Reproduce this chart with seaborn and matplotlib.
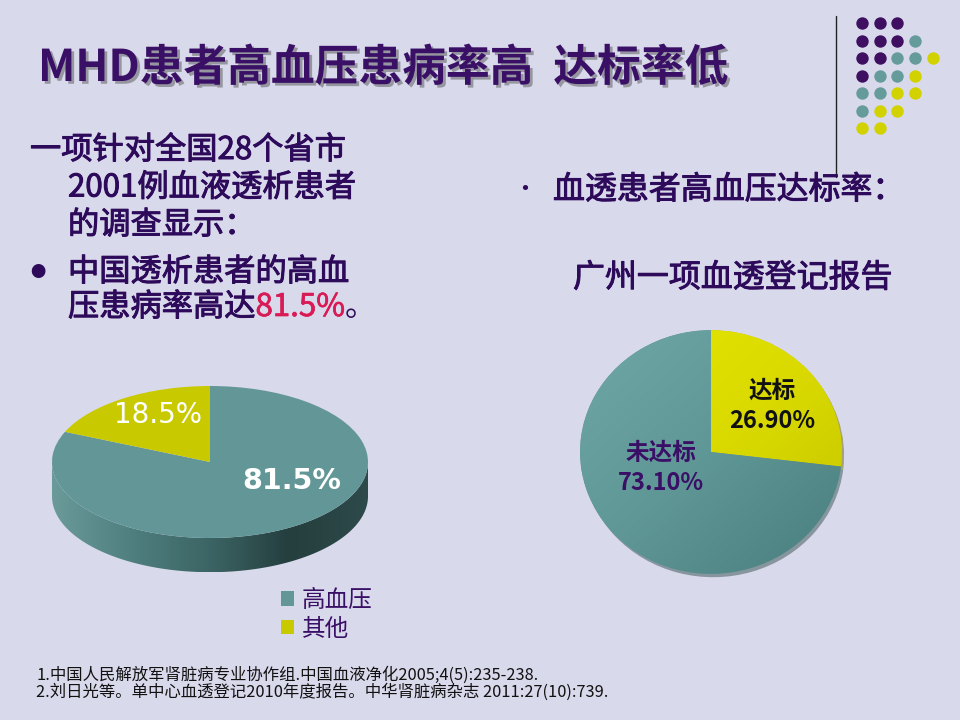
import numpy as np
import matplotlib
matplotlib.use("Agg")
import matplotlib.pyplot as plt
import matplotlib.patheffects as pe
from matplotlib.patches import Polygon
from matplotlib.colors import LinearSegmentedColormap
import seaborn as sns

# left pie: prevalence of hypertension among dialysis patients
prev_labels = ["高血压", "其他"]
prev_values = [81.5, 18.5]

# right pie: blood pressure control rate (Guangzhou registry)
ctrl_labels = ["达标", "未达标"]
ctrl_values = [26.90, 73.10]

title = "MHD患者高血压患病率高  达标率低"
intro_lines = ["一项针对全国28个省市", "2001例血液透析患者", "的调查显示："]
bullet_lines = ["中国透析患者的高血", "压患病率高达"]
right_bullet = "血透患者高血压达标率："
right_sub = "广州一项血透登记报告"
refs = ["1.中国人民解放军肾脏病专业协作组.中国血液净化2005;4(5):235-238.",
        "2.刘日光等。单中心血透登记2010年度报告。中华肾脏病杂志 2011:27(10):739."]

# decorative dot grid in the corner (P=purple, T=teal, Y=yellow)
dot_rows = ["PPP", "PPPT", "PPTTY", "PTTY", "TTYY", "TYY", "YY"]

BG = "#D9D9EC"
PURPLE = "#3A0F66"
TEXT = "#2D0A5A"
TEAL = "#639797"
YELLOW = "#C9C900"
RED = "#D81B55"

sns.set_theme(style="white")
plt.rcParams["font.family"] = ["Noto Sans CJK SC", "DejaVu Sans"]

fig = plt.figure(figsize=(9.6, 7.2), dpi=100, facecolor=BG)

# full-figure overlay in pixel coordinates for the slide text
bg = fig.add_axes([0, 0, 1, 1])
bg.set_xlim(0, 960)
bg.set_ylim(720, 0)
bg.axis("off")

bg.text(38, 68, title, fontsize=31.5, fontweight="black", color=PURPLE, va="center",
        path_effects=[pe.withSimplePatchShadow(offset=(2, -2), shadow_rgbFace="#555555", alpha=0.5)])

# slightly heavier strokes to mimic the original slide font
thick = [pe.withStroke(linewidth=0.7, foreground=TEXT)]
body = dict(fontsize=22.5, color=TEXT, va="center", path_effects=thick)
for i, line in enumerate(intro_lines):
    bg.text(30 if i == 0 else 68, 150 + 37.5 * i, line, **body)
bg.text(38, 272, "●", fontsize=11, color=TEXT, va="center", ha="center")
bg.text(68, 272, bullet_lines[0], **body)
t1 = bg.text(68, 307, bullet_lines[1], **body)
t2 = bg.annotate(f"{prev_values[0]}%", xy=(1, 0), xycoords=t1, va="bottom", ha="left",
                 fontsize=22.5, color=RED,
                 path_effects=[pe.withStroke(linewidth=0.5, foreground=RED)])
bg.annotate("。", xy=(1, 0), xycoords=t2, va="bottom", ha="left", fontsize=22.5, color=TEXT)

bg.text(525, 190, "•", fontsize=18, color=TEXT, va="center", ha="center")
bg.text(553, 190, right_bullet, fontsize=23, color=TEXT, va="center", path_effects=thick)
bg.text(573, 278, right_sub, fontsize=23, color=TEXT, va="center", path_effects=thick)

for i, ref in enumerate(refs):
    bg.text(36, 675 + 17.5 * i, ref, fontsize=11.8, color="#111111", va="center")

# corner decoration
bg.plot([836, 836], [16, 177], color="#222222", lw=1)
dot_colors = {"P": "#3F1062", "T": "#659B9B", "Y": "#D2D200"}
for r, row in enumerate(dot_rows):
    for c, key in enumerate(row):
        bg.scatter(862 + 17.7 * c, 23 + 17.5 * r, s=80, color=dot_colors[key], lw=0)

# ---- left 3D-looking pie ----
ax1 = fig.add_axes([36.2 / 960, (720 - 583.6) / 720, 347.6 / 960, 205.2 / 720])
ax1.patch.set_alpha(0)
depth = 0.45
t = np.linspace(np.pi, 2 * np.pi, 200)
side = np.vstack([np.column_stack([np.cos(t), np.sin(t)]),
                  np.column_stack([np.cos(t[::-1]), np.sin(t[::-1]) - depth])])
side_patch = Polygon(side, closed=True, facecolor="none", edgecolor="none")
ax1.add_patch(side_patch)
side_cmap = LinearSegmentedColormap.from_list("side", ["#6A9A9A", "#4F7F7F", "#3C6464", "#253E3E", "#2E4A4A"])
im = ax1.imshow(np.linspace(0, 1, 256)[None, :], cmap=side_cmap, extent=(-1, 1, -1 - depth, 0),
                aspect="auto", zorder=1)
im.set_clip_path(side_patch)

wedges1, _ = ax1.pie(prev_values, colors=[TEAL, YELLOW], startangle=90, counterclock=False,
                     radius=1, wedgeprops=dict(linewidth=0))
for w in wedges1:
    w.set_zorder(2)
ax1.text(-0.33, 0.62, f"{prev_values[1]}%", fontsize=20, color="white", ha="center", va="center",
         family=["DejaVu Sans"], zorder=3)
ax1.text(0.52, -0.25, f"{prev_values[0]}%", fontsize=20.5, color="white", fontweight="bold",
         ha="center", va="center", family=["DejaVu Sans"], zorder=3)
ax1.set_aspect("auto")
ax1.set_xlim(-1.1, 1.1)
ax1.set_ylim(-1.6, 1.1)
ax1.axis("off")

fig.legend(wedges1, prev_labels, loc="upper left", bbox_to_anchor=(269 / 960, 1 - 577 / 720),
           frameon=False, fontsize=17, handlelength=0.55, handleheight=0.55,
           handletextpad=0.35, labelspacing=0.25, borderpad=0, labelcolor=PURPLE)

# ---- right pie ----
ax2 = fig.add_axes([567 / 960, 134 / 720, 288 / 960, 268 / 720])
ax2.patch.set_alpha(0)
wedges2, _ = ax2.pie(ctrl_values, colors=[YELLOW, TEAL], startangle=90, counterclock=False,
                     radius=1, wedgeprops=dict(linewidth=0),
                     shadow=dict(ox=0.012, oy=-0.02, shade=0.45, alpha=0.5))
gx, gy = np.meshgrid(np.linspace(0, 1, 200), np.linspace(0, 1, 200))
diag = (gx + gy) / 2
for w, cols in zip(wedges2, [["#E6E600", "#DADA00", "#C4C400"],
                             ["#6FA6A6", "#5F9696", "#4A7E7E"]]):
    cm = LinearSegmentedColormap.from_list("w", cols)
    g = ax2.imshow(diag, cmap=cm, extent=(-1, 1, -1, 1), origin="upper", aspect="auto",
                   zorder=w.get_zorder() + 0.1)
    g.set_clip_path(w)
ax2.text(0.47, 0.38, f"{ctrl_labels[0]}\n{ctrl_values[0]:.2f}%", fontsize=17, fontweight="bold",
         color="#111111", ha="center", va="center", linespacing=1.3, zorder=5)
ax2.text(-0.38, -0.13, f"{ctrl_labels[1]}\n{ctrl_values[1]:.2f}%", fontsize=17, fontweight="bold",
         color=PURPLE, ha="center", va="center", linespacing=1.3, zorder=5)
ax2.set_aspect("auto")
ax2.set_xlim(-1.1, 1.1)
ax2.set_ylim(-1.1, 1.1)
ax2.axis("off")

fig.savefig("out.png", dpi=100, facecolor=BG)
